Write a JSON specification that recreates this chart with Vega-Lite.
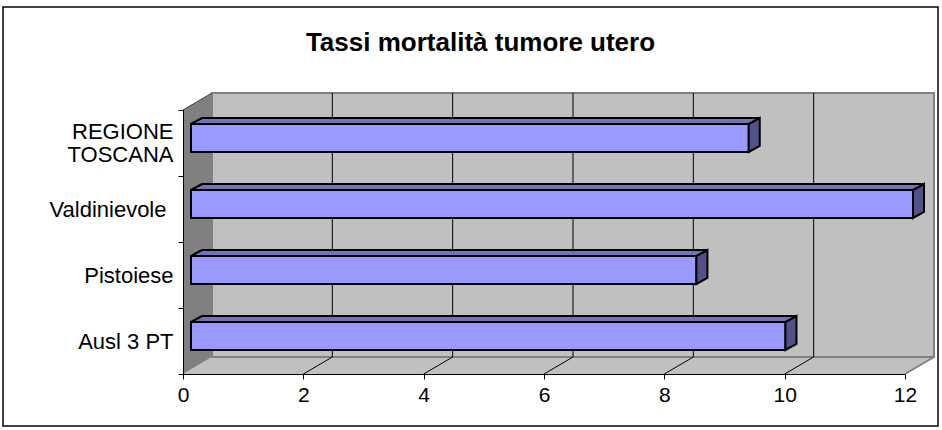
{
  "$schema": "https://vega.github.io/schema/vega-lite/v6.json",
  "width": 935,
  "height": 419,
  "autosize": {"type": "none"},
  "padding": {"left": 3, "top": 7, "right": 4, "bottom": 4},
  "background": "white",
  "title": {
    "text": "Tassi mortalità tumore utero",
    "font": "Liberation Sans",
    "fontSize": 26,
    "fontWeight": "bold",
    "color": "black",
    "anchor": "middle",
    "frame": "group",
    "baseline": "alphabetic",
    "offset": -81,
    "dx": 10
  },
  "config": {
    "view": {"stroke": "black", "strokeWidth": 1.5},
    "axisX": {
      "tickCount": 6,
      "offset": -52,
      "zindex": 1,
      "grid": false,
      "domainColor": "black",
      "domainWidth": 1,
      "tickColor": "black",
      "tickSize": 5,
      "labelFont": "Liberation Sans",
      "labelFontSize": 21,
      "labelColor": "black",
      "labelPadding": 5,
      "labelFlush": false
    }
  },
  "layer": [
    {
      "data": {"values": [{}]},
      "layer": [
        {
          "mark": {"type": "rect", "fill": "#C0C0C0", "xOffset": 29, "yOffset": -17},
          "encoding": {
            "x": {"datum": 0, "type": "quantitative", "scale": {"domain": [0, 12], "range": [180, 902], "zero": false, "nice": false}},
            "x2": {"datum": 12},
            "y": {"datum": 0, "type": "quantitative", "scale": {"domain": [0, 1], "range": [367, 103]}, "axis": null},
            "y2": {"datum": 0}
          }
        },
        {
          "mark": {"type": "point", "shape": "M0,0 L29,-17 L29,0 Z", "size": 4, "filled": true, "fill": "#C0C0C0", "opacity": 1, "strokeWidth": 0},
          "encoding": {
            "x": {"datum": 0, "type": "quantitative", "scale": {"domain": [0, 12], "range": [180, 902], "zero": false, "nice": false}},
            "y": {"datum": 0, "type": "quantitative", "scale": {"domain": [0, 1], "range": [367, 103]}, "axis": null}
          }
        },
        {
          "mark": {"type": "point", "shape": "M0,0 L0,-17 L29,-17 Z", "size": 4, "filled": true, "fill": "#C0C0C0", "opacity": 1, "strokeWidth": 0},
          "encoding": {
            "x": {"datum": 12, "type": "quantitative", "scale": {"domain": [0, 12], "range": [180, 902], "zero": false, "nice": false}},
            "y": {"datum": 0, "type": "quantitative", "scale": {"domain": [0, 1], "range": [367, 103]}, "axis": null}
          }
        },
        {
          "mark": {"type": "rect", "fill": "#C0C0C0", "stroke": "#808080", "strokeWidth": 2, "xOffset": 29, "x2Offset": 29, "yOffset": -17, "y2Offset": -17},
          "encoding": {
            "x": {"datum": 0, "type": "quantitative", "scale": {"domain": [0, 12], "range": [180, 902], "zero": false, "nice": false}},
            "x2": {"datum": 12},
            "y": {"datum": 0, "type": "quantitative", "scale": {"domain": [0, 1], "range": [367, 103]}, "axis": null},
            "y2": {"datum": 1}
          }
        },
        {
          "mark": {"type": "rule", "color": "#808080", "strokeWidth": 2, "x2Offset": 29, "y2Offset": -17},
          "encoding": {
            "x": {"datum": 12, "type": "quantitative", "scale": {"domain": [0, 12], "range": [180, 902], "zero": false, "nice": false}},
            "x2": {"datum": 12},
            "y": {"datum": 0, "type": "quantitative", "scale": {"domain": [0, 1], "range": [367, 103]}, "axis": null},
            "y2": {"datum": 0}
          }
        },
        {
          "mark": {"type": "rect", "fill": "#808080", "x2Offset": 29, "yOffset": -17},
          "encoding": {
            "x": {"datum": 0, "type": "quantitative", "scale": {"domain": [0, 12], "range": [180, 902], "zero": false, "nice": false}},
            "x2": {"datum": 0},
            "y": {"datum": 0, "type": "quantitative", "scale": {"domain": [0, 1], "range": [367, 103]}, "axis": null},
            "y2": {"datum": 1}
          }
        },
        {
          "mark": {"type": "point", "shape": "M0,0 L29,-17 L29,0 Z", "size": 4, "filled": true, "fill": "#808080", "opacity": 1, "strokeWidth": 0},
          "encoding": {
            "x": {"datum": 0, "type": "quantitative", "scale": {"domain": [0, 12], "range": [180, 902], "zero": false, "nice": false}},
            "y": {"datum": 1, "type": "quantitative", "scale": {"domain": [0, 1], "range": [367, 103]}, "axis": null}
          }
        },
        {
          "mark": {"type": "point", "shape": "M0,0 L0,-17 L29,-17 Z", "size": 4, "filled": true, "fill": "#808080", "opacity": 1, "strokeWidth": 0},
          "encoding": {
            "x": {"datum": 0, "type": "quantitative", "scale": {"domain": [0, 12], "range": [180, 902], "zero": false, "nice": false}},
            "y": {"datum": 0, "type": "quantitative", "scale": {"domain": [0, 1], "range": [367, 103]}, "axis": null}
          }
        },
        {
          "mark": {"type": "rule", "color": "#404040", "strokeWidth": 1, "x2Offset": 29, "y2Offset": -17},
          "encoding": {
            "x": {"datum": 0, "type": "quantitative", "scale": {"domain": [0, 12], "range": [180, 902], "zero": false, "nice": false}},
            "x2": {"datum": 0},
            "y": {"datum": 1, "type": "quantitative", "scale": {"domain": [0, 1], "range": [367, 103]}, "axis": null},
            "y2": {"datum": 1}
          }
        }
      ]
    },
    {
      "data": {"values": [{"tick": 2}, {"tick": 4}, {"tick": 6}, {"tick": 8}, {"tick": 10}]},
      "layer": [
        {
          "mark": {"type": "rule", "color": "black", "strokeWidth": 1, "xOffset": 29, "yOffset": -17, "y2Offset": -17},
          "encoding": {
            "x": {"field": "tick", "type": "quantitative", "title": null, "scale": {"domain": [0, 12], "range": [180, 902], "zero": false, "nice": false}},
            "y": {"datum": 0, "type": "quantitative", "scale": {"domain": [0, 1], "range": [367, 103]}, "axis": null},
            "y2": {"datum": 1}
          }
        },
        {
          "mark": {"type": "rule", "color": "black", "strokeWidth": 1, "x2Offset": 29, "y2Offset": -17},
          "encoding": {
            "x": {"field": "tick", "type": "quantitative", "title": null, "scale": {"domain": [0, 12], "range": [180, 902], "zero": false, "nice": false}},
            "x2": {"field": "tick"},
            "y": {"datum": 0, "type": "quantitative", "scale": {"domain": [0, 1], "range": [367, 103]}, "axis": null},
            "y2": {"datum": 0}
          }
        }
      ]
    },
    {
      "data": {
        "values": [
          {"area": "REGIONE TOSCANA", "tasso": 9.27},
          {"area": "Valdinievole", "tasso": 12.0},
          {"area": "Pistoiese", "tasso": 8.4},
          {"area": "Ausl 3 PT", "tasso": 9.88}
        ]
      },
      "encoding": {
        "y": {
          "field": "area",
          "type": "nominal",
          "bandPosition": 0.5,
          "scale": {
            "domain": ["REGIONE TOSCANA", "Valdinievole", "Pistoiese", "Ausl 3 PT"],
            "range": [103, 367],
            "paddingInner": 0,
            "paddingOuter": 0
          },
          "axis": {
            "orient": "left",
            "title": null,
            "offset": -180,
            "zindex": 1,
            "tickBand": "extent",
            "domainColor": "black",
            "tickColor": "black",
            "tickSize": 5,
            "labelFont": "Liberation Sans",
            "labelFontSize": 22,
            "labelColor": "black",
            "labelPadding": {"condition": {"test": "datum.value == 'Valdinievole'", "value": 12}, "value": 5},
            "labelOffset": {"condition": {"test": "datum.value == 'REGIONE TOSCANA'", "value": -12}, "value": 0},
            "labelLineHeight": 23,
            "labelExpr": "datum.value == 'REGIONE TOSCANA' ? ['REGIONE', 'TOSCANA'] : datum.value"
          }
        }
      },
      "layer": [
        {
          "mark": {"type": "bar", "height": {"band": 0.424}, "fill": "#7373BA", "strokeWidth": 0, "xOffset": 19, "x2Offset": 19, "yOffset": -11, "y2Offset": -11},
          "encoding": {
            "x": {"field": "tasso", "type": "quantitative", "title": null, "scale": {"domain": [0, 12], "range": [180, 902], "zero": false, "nice": false}},
            "x2": {"datum": 0}
          }
        },
        {
          "mark": {"type": "point", "shape": "M0,0 L11,-6 L11,0 Z", "size": 4, "filled": true, "fill": "#7373BA", "opacity": 1, "strokeWidth": 0, "xOffset": 8, "yOffset": -19},
          "encoding": {
            "x": {"datum": 0, "type": "quantitative", "scale": {"domain": [0, 12], "range": [180, 902], "zero": false, "nice": false}}
          }
        },
        {
          "mark": {"type": "bar", "height": {"band": 0.424}, "fill": "#9999FF", "stroke": "black", "strokeWidth": 2, "xOffset": 8, "x2Offset": 8, "yOffset": -5, "y2Offset": -5},
          "encoding": {
            "x": {"field": "tasso", "type": "quantitative", "title": null, "scale": {"domain": [0, 12], "range": [180, 902], "zero": false, "nice": false}},
            "x2": {"datum": 0}
          }
        },
        {
          "mark": {"type": "point", "shape": "M0,-14 L11,-20 L11,8 L0,14 Z", "size": 4, "filled": true, "fill": "#525288", "stroke": "black", "strokeWidth": 2, "opacity": 1, "xOffset": 8, "yOffset": -5},
          "encoding": {
            "x": {"field": "tasso", "type": "quantitative", "title": null, "scale": {"domain": [0, 12], "range": [180, 902], "zero": false, "nice": false}}
          }
        },
        {
          "mark": {"type": "point", "shape": "M0,0 L11,-6", "size": 4, "filled": false, "fill": null, "stroke": "black", "strokeWidth": 2, "opacity": 1, "xOffset": 8, "yOffset": -19},
          "encoding": {
            "x": {"datum": 0, "type": "quantitative", "scale": {"domain": [0, 12], "range": [180, 902], "zero": false, "nice": false}}
          }
        },
        {
          "mark": {"type": "rule", "color": "black", "strokeWidth": 2, "xOffset": 19, "x2Offset": 19, "yOffset": -25},
          "encoding": {
            "x": {"field": "tasso", "type": "quantitative", "title": null, "scale": {"domain": [0, 12], "range": [180, 902], "zero": false, "nice": false}},
            "x2": {"datum": 0}
          }
        }
      ]
    }
  ],
  "resolve": {"scale": {"y": "independent"}}
}
